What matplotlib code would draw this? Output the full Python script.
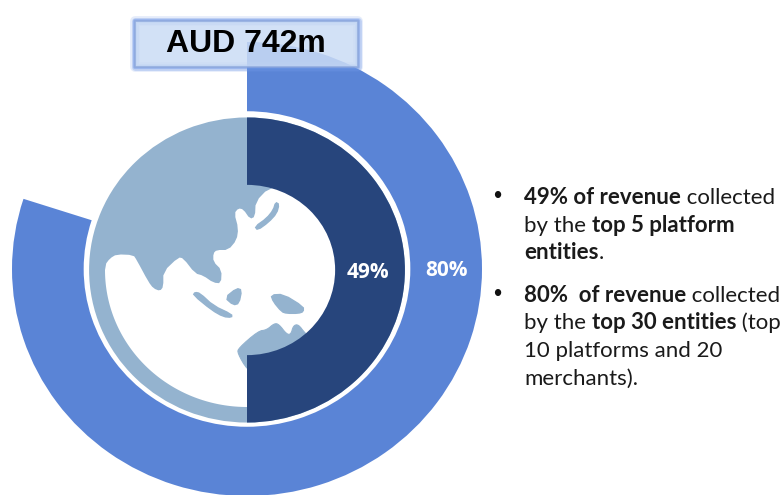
# -*- coding: utf-8 -*-
import matplotlib
matplotlib.use("Agg")
import matplotlib.pyplot as plt
import numpy as np
from matplotlib.patches import FancyBboxPatch, Polygon

# shares as drawn in the picture (inner ring is drawn as a half although labelled 49%)
outer_share = [80, 20]
inner_share = [50, 50]
outer_label = "80%"
inner_label = "49%"
total_label = "AUD 742m"

bullet_1 = [[("49% of revenue", True), (" collected", False)],
            [("by the ", False), ("top 5 platform", True)],
            [("entities", True), (".", False)]]
bullet_2 = [[("80%  of revenue", True), (" collected", False)],
            [("by the ", False), ("top 30 entities", True), (" (top", False)],
            [("10 platforms and 20", False)],
            [("merchants).", False)]]

# globe outline, traced in crop coordinates
coast = [(60, 450), (75, 430), (95, 418), (145, 420), (155, 435), (190, 500), (205, 520),
         (225, 528), (235, 515), (235, 470), (280, 427), (295, 430), (330, 475), (355, 482),
         (385, 503), (408, 505), (410, 465), (385, 440), (385, 415), (395, 405), (430, 405),
         (455, 375), (460, 340), (448, 295), (460, 280), (475, 283), (495, 312), (510, 305),
         (512, 260), (550, 220), (620, 205)]
australia = [(700, 690), (660, 655), (640, 628), (625, 632), (618, 658), (605, 658), (582, 628),
             (568, 625), (545, 645), (520, 648), (460, 700), (458, 715), (487, 765), (520, 780)]
islands = [[(572, 262), (582, 268), (575, 295), (550, 322), (518, 345), (510, 335), (545, 310), (565, 285)],
           [(330, 532), (345, 535), (385, 572), (440, 598), (440, 607), (415, 605), (380, 585), (325, 540)],
           [(420, 548), (455, 520), (470, 525), (462, 565), (445, 570)],
           [(558, 540), (595, 538), (655, 575), (655, 590), (640, 595), (605, 595), (590, 590), (565, 560)]]

blue = "#5A84D6"
navy = "#27457C"
pale = "#94B3CF"

W, H = 784, 495
CX, CY, RX, RY = 247, 269, 235, 227


def px(x, y):
    return (x - CX) / RX, (CY - y) / RY


def crop(points):
    return [px(85 + a / 3, 115 + b / 3) for a, b in points]


def smooth(points, closed=True, n=2):
    pts = np.array(points, dtype=float)
    for _ in range(n):
        nxt = np.roll(pts, -1, axis=0) if closed else pts[1:]
        cur = pts if closed else pts[:-1]
        pts = np.column_stack([0.75 * cur + 0.25 * nxt, 0.25 * cur + 0.75 * nxt]).reshape(-1, 2)
    return pts


def rich_line(ax, x, y, runs, size):
    r = ax.figure.canvas.get_renderer()
    for txt, bold in runs:
        ax.text(x, y, txt, transform=None, fontsize=size, family="Lato", color="#1a1a1a",
                fontweight="bold" if bold else "normal", va="baseline", zorder=10)
        # spaces at the ends are not measured, so measure with no-break spaces
        probe = ax.text(0, 0, txt.replace(" ", "\u00a0"), transform=None, fontsize=size, family="Lato",
                        fontweight="bold" if bold else "normal")
        x += probe.get_window_extent(r).width
        probe.remove()
    return x


fig = plt.figure(figsize=(W / 100, H / 100), dpi=100, facecolor="white")
ax = fig.add_axes([0, 0, 1, 1])

wp = dict(linewidth=0)
globe_c = (0, -1 / RY)
ax.pie(outer_share, colors=[blue, "none"], radius=1.0, startangle=90, counterclock=False,
       wedgeprops=dict(width=0.305, zorder=1, **wp))
ax.pie([1], colors=[pale], radius=0.672, center=globe_c, wedgeprops=dict(zorder=2, **wp))

# white sea over the pale disc, land is what stays pale
t = np.linspace(np.pi, np.pi * 1.5, 80)
arc = [(247 + 142 * np.cos(a), 270 - 137 * np.sin(a)) for a in t]
arc = [px(a, b) for a, b in arc[::-1]]
sea_top = smooth(crop(coast), closed=False, n=1)
right_side = crop([(800, 205), (800, 700), (600, 850)])
sea = np.vstack([sea_top, right_side, arc])
ax.add_patch(Polygon(sea, closed=True, fc="white", ec="none", zorder=3))
ax.add_patch(Polygon(smooth(crop(australia)), closed=True, fc=pale, ec=pale, lw=0.8, zorder=4))
for isl in islands:
    ax.add_patch(Polygon(smooth(crop(isl), n=1), closed=True, fc=pale, ec=pale, lw=1.0, zorder=4))

ax.pie(inner_share, colors=[navy, "none"], radius=0.672, center=globe_c, startangle=90, counterclock=False,
       wedgeprops=dict(width=0.297, zorder=5, **wp))

ax.set_aspect("auto")
x0, y0 = px(0, H)
x1, y1 = px(W, 0)
ax.set_xlim(x0, x1)
ax.set_ylim(y0, y1)
ax.axis("off")

lx, ly = px(368, 272)
ax.text(lx, ly, inner_label, color="white", fontsize=15, fontweight="bold", family="Open Sans",
        ha="center", va="center", zorder=6)
lx, ly = px(446.5, 270)
ax.text(lx, ly, outer_label, color="white", fontsize=15, fontweight="bold", family="Open Sans",
        ha="center", va="center", zorder=6)

# title box with soft glow
bx, by = px(135, 67)
bx2, by2 = px(358, 21)
for lw, a in ((7, 0.18), (5, 0.3), (3, 0.45)):
    ax.add_patch(FancyBboxPatch((bx, by), bx2 - bx, by2 - by, boxstyle="square,pad=0", fc="none",
                                ec="#6F98E6", lw=lw, alpha=a, joinstyle="round", zorder=7))
ax.add_patch(FancyBboxPatch((bx, by), bx2 - bx, by2 - by, boxstyle="square,pad=0", fc="#CBDCF5",
                            ec="#8BA6DC", lw=1.2, alpha=0.85, zorder=8))
tx, ty = px(245.5, 44)
ax.text(tx, ty, total_label, color="black", fontsize=23, fontweight="bold", family="Liberation Sans",
        ha="center", va="center", zorder=9)

# bullet text, placed in pixels
fig.canvas.draw()
size = 16
y = H - 204
for block in (bullet_1, bullet_2):
    ax.text(497, y + 1, "\u2022", transform=None, fontsize=17, family="Liberation Sans",
            color="#111111", ha="center", va="baseline", zorder=10)
    for runs in block:
        rich_line(ax, 524, y, runs, size)
        y -= 27.6
    y -= 15

fig.savefig("out.png", dpi=100, facecolor="white")
